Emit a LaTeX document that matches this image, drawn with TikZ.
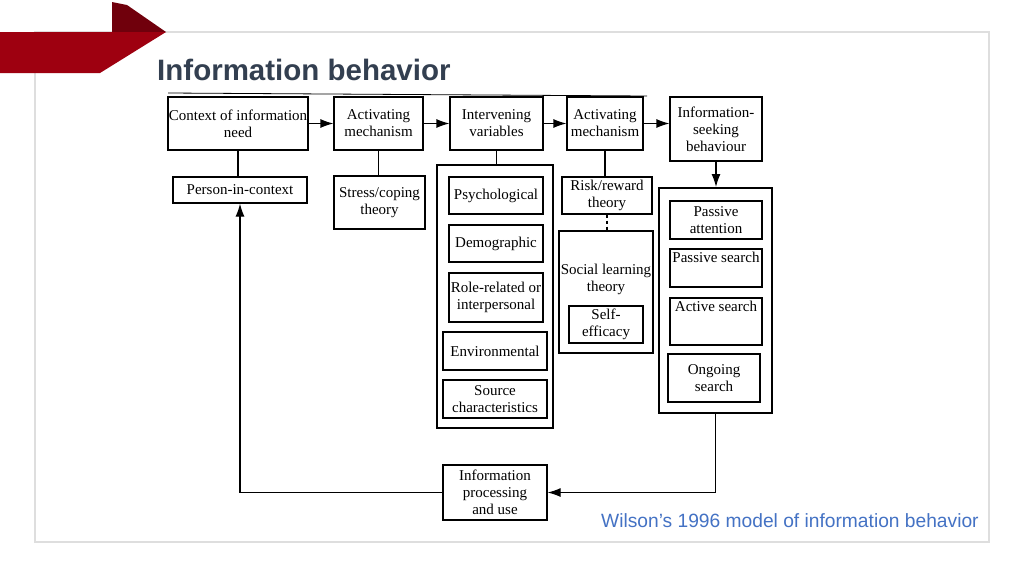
\documentclass[tikz,border=0pt]{standalone}
\usepackage{fontspec}
\setmainfont{Liberation Serif}
\newfontfamily\slidefont{Liberation Sans}
\usetikzlibrary{arrows.meta}
\definecolor{bannerred}{RGB}{158,0,16}
\definecolor{bannerdark}{RGB}{112,0,12}
\definecolor{titlegray}{RGB}{51,63,80}
\definecolor{captionblue}{RGB}{68,114,196}
\definecolor{framegray}{RGB}{222,222,222}

\begin{document}
\begin{tikzpicture}[x=1pt,y=-1pt,
    box/.style={draw,line width=1.2pt,align=center,inner sep=0pt,font=\fontsize{15}{17}\selectfont},
    tag/.style={anchor=north,inner sep=3pt,font=\fontsize{15}{17}\selectfont},
    group/.style={draw,line width=2pt,inner sep=0pt},
    flow/.style={-{Latex[length=13pt,width=9pt]},line width=1.2pt},
    link/.style={line width=1.2pt}]
  \fill[white] (0,0) rectangle (1024,576);
  \draw[framegray,line width=1.5pt] (35,32) rectangle (989,542);
  % banner
  \fill[bannerdark] (112,2) -- (127,5) -- (166,32) -- (112,32) -- cycle;
  \fill[bannerred] (0,32) -- (166,32) -- (100,73) -- (0,73) -- cycle;
  \node[anchor=base west,inner sep=0pt,text=titlegray,font=\slidefont\bfseries\fontsize{29.5}{33}\selectfont] (title) at (157,80) {Information behavior};
  \draw[line width=0.8pt] (168,93) -- (647,96);
  % top row
  \node[box,minimum width=140pt,minimum height=53pt] (ctx) at (238,123.5) {Context of information\\need};
  \node[box,minimum width=89pt,minimum height=53pt] (act1) at (378.5,123.5) {Activating\\mechanism};
  \node[box,minimum width=93pt,minimum height=53pt] (intv) at (496.5,123.5) {Intervening\\variables};
  \node[box,minimum width=76pt,minimum height=53pt] (act2) at (605,123.5) {Activating\\mechanism};
  \node[box,minimum width=92pt,minimum height=64pt] (seek) at (716,129) {Information-\\seeking\\behaviour};
  % second row
  \node[box,minimum width=134pt,minimum height=26pt] (pic) at (240,190) {Person-in-context};
  \node[box,minimum width=91pt,minimum height=53pt] (stress) at (379.5,202.5) {Stress/coping\\theory};
  % intervening variables
  \node[group,minimum width=116pt,minimum height=263pt] (vars) at (495,296.5) {};
  \node[box,minimum width=94pt,minimum height=37pt] (psych) at (496,195.5) {Psychological};
  \node[box,minimum width=94pt,minimum height=37pt] (demo) at (496,243.5) {Demographic};
  \node[box,minimum width=94pt,minimum height=49pt] (role) at (496,297.5) {Role-related or\\interpersonal};
  \node[box,minimum width=104pt,minimum height=38pt] (env) at (495,351) {Environmental};
  \node[box,minimum width=104pt,minimum height=38pt] (source) at (495,399) {Source\\characteristics};
  % risk and social learning
  \node[box,minimum width=90pt,minimum height=37pt] (risk) at (607,195.5) {Risk/reward\\theory};
  \node[group,minimum width=94pt,minimum height=122pt] (social) at (606,292) {};
  \node[box,draw=none] (soctext) at (606,279) {Social learning\\theory};
  \node[box,minimum width=74pt,minimum height=37pt] (self) at (606,324.5) {Self-\\efficacy};
  % seeking modes
  \node[group,minimum width=113pt,minimum height=225pt] (seekers) at (715.5,300.5) {};
  \node[box,minimum width=92pt,minimum height=38pt] (pattn) at (716,220) {Passive\\attention};
  \node[box,minimum width=92pt,minimum height=38pt] (psearch) at (716,268) {};
  \node[tag] (psearchtxt) at (psearch.north) {Passive search};
  \node[box,minimum width=92pt,minimum height=47pt] (asearch) at (716,321.5) {};
  \node[tag] (asearchtxt) at (asearch.north) {Active search};
  \node[box,minimum width=92pt,minimum height=48pt] (ongoing) at (714,378) {Ongoing\\search};
  % outcome
  \node[box,minimum width=104pt,minimum height=55pt] (proc) at (495,492.5) {Information\\processing\\and use};
  % connectors
  \draw[flow] (ctx) -- (act1);
  \draw[flow] (act1) -- (intv);
  \draw[flow] (intv) -- (act2);
  \draw[flow] (act2.east) -- (act2.east -| seek.west);
  \draw[link] (ctx.south) -- (ctx.south |- pic.north);
  \draw[link] (act1.south) -- (act1.south |- stress.north);
  \draw[link] (intv.south) -- (intv.south |- vars.north);
  \draw[link] (act2.south) -- (act2.south |- risk.north);
  \draw[link,dashed] (risk.south) -- (risk.south |- social.north);
  \draw[flow] (seek.south) -- (seek.south |- seekers.north);
  \draw[flow] (seekers.south) |- (proc.east);
  \draw[flow] (proc.west) -| (pic.south);
  \node[anchor=base west,inner sep=0pt,text=captionblue,font=\slidefont\fontsize{19.2}{22}\selectfont] (caption) at (601,527) {Wilson’s 1996 model of information behavior};
\end{tikzpicture}
\end{document}
